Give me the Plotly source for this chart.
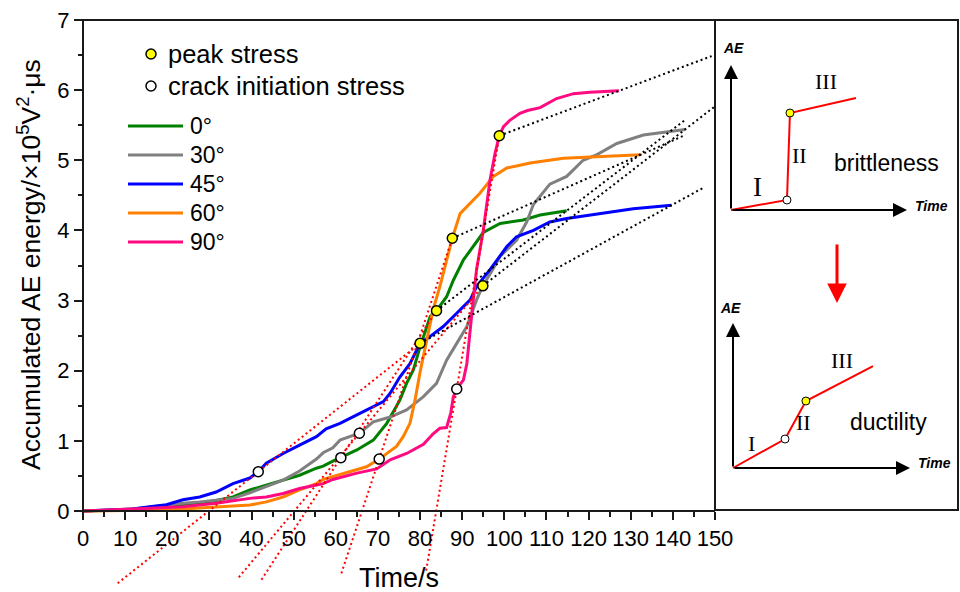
import plotly.graph_objects as go

W, H = 960, 592
FONT = "Arial, Liberation Sans, sans-serif"

# ---------------------------------------------------------------- data
series_names = ["0°", "30°", "45°", "60°", "90°"]
series_colors = ["#008000", "#808080", "#0000FF", "#FF8000", "#FF0A80"]

# accumulated AE energy (x10^5 V^2·μs) versus time (s)
time_0 = [0, 15.8, 20, 24, 27.7, 31.6, 35.6, 39.6, 43.5, 47.5, 51.4, 55.4, 57.0, 59.3,
          61.2, 65.0, 68.9, 72.1, 75.2, 76.8, 78.4, 80.0, 82.4, 83.9, 86.3, 87.9, 90.3,
          92.6, 95.0, 99.0, 104.5, 108.5, 114.8]
ae_0 = [0, 0.02, 0.05, 0.08, 0.11, 0.15, 0.20, 0.30, 0.37, 0.44, 0.51, 0.61, 0.64, 0.71,
        0.76, 0.87, 1.01, 1.25, 1.58, 1.82, 2.01, 2.34, 2.77, 2.856, 3.055, 3.29, 3.58,
        3.77, 3.97, 4.10, 4.15, 4.22, 4.28]

time_30 = [0, 10.3, 15, 19.8, 23.7, 27.7, 31.6, 35.6, 39.6, 43.5, 47.5, 51.4, 55.4, 57.0,
           59.3, 61.0, 65.6, 68.9, 72.9, 76.8, 80.8, 83.9, 86.3, 88.7, 91.1, 93.4, 94.9,
           97.0, 99.0, 102.9, 105.3, 106.9, 110.8, 114.8, 118.7, 122.0, 126.7, 133.0, 142.9]
ae_30 = [0, 0.02, 0.05, 0.085, 0.11, 0.13, 0.155, 0.18, 0.26, 0.35, 0.44, 0.57, 0.74, 0.83,
         0.90, 1.01, 1.108, 1.27, 1.34, 1.44, 1.63, 1.82, 2.15, 2.39, 2.63, 3.01, 3.21,
         3.42, 3.63, 3.86, 4.12, 4.37, 4.66, 4.77, 5.0, 5.08, 5.24, 5.36, 5.44]

time_45 = [0, 11.9, 15.8, 19.8, 23.7, 27.7, 31.6, 35.6, 39.6, 41.6, 43.5, 47.5, 51.4, 55.4,
           57.7, 61.0, 65.0, 68.9, 71.3, 72.9, 75.2, 77.6, 80.0, 82.4, 85.5, 88.7, 91.9,
           93.4, 96.6, 100.6, 102.9, 106.9, 110.8, 114.8, 122.7, 130.6, 139.7]
ae_45 = [0, 0.03, 0.06, 0.09, 0.16, 0.20, 0.27, 0.39, 0.47, 0.56, 0.68, 0.82, 0.94, 1.06,
         1.17, 1.25, 1.37, 1.49, 1.56, 1.68, 1.91, 2.10, 2.39, 2.49, 2.63, 2.82, 3.01,
         3.20, 3.44, 3.77, 3.91, 4.00, 4.12, 4.17, 4.24, 4.31, 4.36]

time_60 = [0, 15.8, 23.7, 31.6, 39.6, 43.5, 47.5, 51.4, 55.4, 57.0, 59.3, 65.0, 67.3, 70.3,
           74.4, 76.0, 77.6, 78.8, 80.0, 81.6, 83.1, 84.7, 85.9, 87.65, 89.5, 91.9, 94.2,
           97.4, 100.6, 103.7, 106.1, 114.0, 121.9, 132.4]
ae_60 = [0, 0.01, 0.03, 0.06, 0.085, 0.13, 0.20, 0.30, 0.39, 0.45, 0.49, 0.585, 0.63, 0.74,
         0.92, 1.06, 1.25, 1.58, 1.98, 2.44, 2.87, 3.20, 3.48, 3.888, 4.24, 4.39, 4.53,
         4.77, 4.89, 4.93, 4.96, 5.03, 5.05, 5.08]

time_90 = [0, 7.9, 15.8, 23.7, 31.6, 39.6, 43.5, 47.5, 51.4, 55.4, 57.0, 59.3, 65.0, 69.7,
           72.9, 76.8, 80.8, 83.1, 84.7, 86.3, 87.3, 87.9, 88.7, 90.3, 91.1, 92.3, 93.4,
           95.0, 96.6, 97.8, 98.8, 99.8, 101.3, 103.7, 105.5, 108.5, 112.4, 116.4, 120.3,
           127.2]
ae_90 = [0, 0.015, 0.04, 0.06, 0.11, 0.18, 0.20, 0.25, 0.32, 0.37, 0.39, 0.45, 0.54, 0.60,
         0.73, 0.82, 0.95, 1.10, 1.18, 1.19, 1.40, 1.63, 1.74, 1.87, 2.10, 2.82, 3.44,
         4.00, 4.72, 5.10, 5.35, 5.48, 5.57, 5.67, 5.71, 5.75, 5.88, 5.95, 5.97, 5.99]

curve_time = [time_0, time_30, time_45, time_60, time_90]
curve_ae = [ae_0, ae_30, ae_45, ae_60, ae_90]

# characteristic points, one per dip angle (same order as series_names)
peak_time = [83.9, 94.9, 80.0, 87.65, 98.8]
peak_ae = [2.856, 3.21, 2.39, 3.888, 5.35]
crack_time = [61.2, 65.6, 41.6, 70.3, 88.7]
crack_ae = [0.76, 1.108, 0.56, 0.74, 1.74]

# how far the fitted guide lines are drawn
tangent_floor = [-0.98, -0.945, -1.03, -0.89, -0.85]   # lower end of crack->peak line (AE)
trend_reach = [143.0, 150.0, 147.2, 143.0, 149.2]      # right end of peak->end line (time)

x_ticks = list(range(0, 151, 10))
x_minor = list(range(5, 150, 10))
y_ticks = list(range(0, 8))
y_minor = [v + 0.5 for v in range(0, 7)]

# schematic stage curves: origin, crack initiation, peak, end (normalised units)
brittle_time = [0, 0.318, 0.335, 0.710]
brittle_ae = [0, 0.069, 0.669, 0.772]
ductile_time = [0, 0.294, 0.412, 0.791]
ductile_ae = [0, 0.200, 0.462, 0.703]


# ---------------------------------------------------------------- helpers
def px(x):
    return x / W


def py(y):
    return 1 - y / H


def label(x, y, text, size, ref=("paper", "paper"), xanchor="center", family=FONT, angle=0):
    return dict(x=x, y=y, xref=ref[0], yref=ref[1], text=text, showarrow=False,
                xanchor=xanchor, yanchor="middle", textangle=angle,
                font=dict(family=family, size=size, color="black"))


# main plot frame (pixels)
LEFT, RIGHT, TOP, ZERO = 83, 715, 20, 511
y_scale = (ZERO - TOP) / 7.0
y_bottom = -(H - ZERO) / y_scale

fig = go.Figure()

# AE curves
for name, color, t, e in zip(series_names, series_colors, curve_time, curve_ae):
    fig.add_trace(go.Scatter(x=t, y=e, mode="lines", name=name,
                             line=dict(color=color, width=3), hoverinfo="skip",
                             showlegend=False))

# red dotted lines through crack initiation and peak points
for i in range(5):
    slope = (peak_ae[i] - crack_ae[i]) / (peak_time[i] - crack_time[i])
    t_low = crack_time[i] + (tangent_floor[i] - crack_ae[i]) / slope
    fig.add_trace(go.Scatter(x=[t_low, peak_time[i]], y=[tangent_floor[i], peak_ae[i]],
                             mode="lines", line=dict(color="#FF0000", width=2, dash="2px,3px"),
                             hoverinfo="skip", showlegend=False))

# black dotted lines through peak point and curve end
for i in range(5):
    t_end, e_end = curve_time[i][-1], curve_ae[i][-1]
    slope = (e_end - peak_ae[i]) / (t_end - peak_time[i])
    e_far = e_end + slope * (trend_reach[i] - t_end)
    fig.add_trace(go.Scatter(x=[peak_time[i], trend_reach[i]], y=[peak_ae[i], e_far],
                             mode="lines", line=dict(color="#000000", width=2, dash="2px,3px"),
                             hoverinfo="skip", showlegend=False))

# characteristic point markers
fig.add_trace(go.Scatter(x=crack_time, y=crack_ae, mode="markers",
                         marker=dict(size=10, color="white", line=dict(color="black", width=1.5)),
                         hoverinfo="skip", showlegend=False))
fig.add_trace(go.Scatter(x=peak_time, y=peak_ae, mode="markers",
                         marker=dict(size=10, color="#FFFF00", line=dict(color="black", width=1.5)),
                         hoverinfo="skip", showlegend=False))

# ---------------------------------------------------------------- schematic insets
SERIF = "Liberation Serif, Times New Roman, serif"
insets = [
    dict(ax="x2", ay="y2", t=brittle_time, e=brittle_ae, origin=(731, 210), tip=(907, 65),
         box=(235, 20), name="brittleness",
         texts=[("AE", 0.017, 1.117), ("Time", 1.142, 0.028)],
         stages=[("I", 0.148, 0.159, 27), ("II", 0.392, 0.379, 22), ("III", 0.54, 0.883, 22)],
         name_pos=(0.886, 0.324)),
    dict(ax="x3", ay="y3", t=ductile_time, e=ductile_ae, origin=(733, 468), tip=(910, 323),
         box=(490, 290), name="ductility",
         texts=[("AE", -0.014, 1.103), ("Time", 1.141, 0.034)],
         stages=[("I", 0.107, 0.172, 22), ("II", 0.401, 0.317, 22), ("III", 0.616, 0.738, 22)],
         name_pos=(0.881, 0.317)),
]

layout_axes = {}
annotations = []
for ins in insets:
    ox, oy = ins["origin"]
    tx, ty = ins["tip"]
    sx, sy = tx - ox, oy - ty
    bottom_px, top_px = ins["box"]
    xr = [(RIGHT - ox) / sx, (958 - ox) / sx]
    yr = [(oy - bottom_px) / sy, (oy - top_px) / sy]
    xn = ins["ax"].replace("x", "xaxis")
    yn = ins["ay"].replace("y", "yaxis")
    layout_axes[xn] = dict(domain=[px(RIGHT), px(958)], range=xr, visible=False,
                           anchor=ins["ay"], fixedrange=True, automargin=False)
    layout_axes[yn] = dict(domain=[py(bottom_px), py(top_px)], range=yr, visible=False,
                           anchor=ins["ax"], fixedrange=True, automargin=False)
    ref = (ins["ax"], ins["ay"])

    fig.add_trace(go.Scatter(x=ins["t"], y=ins["e"], xaxis=ins["ax"], yaxis=ins["ay"],
                             mode="lines", line=dict(color="#FF0000", width=2),
                             hoverinfo="skip", showlegend=False))
    fig.add_trace(go.Scatter(x=[ins["t"][1]], y=[ins["e"][1]], xaxis=ins["ax"], yaxis=ins["ay"],
                             mode="markers",
                             marker=dict(size=8, color="white", line=dict(color="black", width=1)),
                             hoverinfo="skip", showlegend=False))
    fig.add_trace(go.Scatter(x=[ins["t"][2]], y=[ins["e"][2]], xaxis=ins["ax"], yaxis=ins["ay"],
                             mode="markers",
                             marker=dict(size=8, color="#FFFF00", line=dict(color="black", width=1)),
                             hoverinfo="skip", showlegend=False))
    # axis arrows
    for (hx, hy) in [(1, 0), (0, 1)]:
        annotations.append(dict(x=hx, y=hy, ax=0, ay=0, xref=ref[0], yref=ref[1],
                                axref=ref[0], ayref=ref[1], text="", showarrow=True,
                                arrowhead=2, arrowsize=1.4, arrowwidth=2, arrowcolor="black"))
    for txt, x, y in ins["texts"]:
        annotations.append(label(x, y, f"<b><i>{txt}</i></b>", 14, ref))
    for txt, x, y, s in ins["stages"]:
        annotations.append(label(x, y, txt, s, ref, family=SERIF))
    nx, ny = ins["name_pos"]
    annotations.append(label(nx, ny, ins["name"], 23, ref))

# red arrow between the two schematics
annotations.append(dict(x=px(837), y=py(303), xref="paper", yref="paper", ax=0, ay=-60,
                        text="", showarrow=True, arrowhead=2, arrowsize=1.3, arrowwidth=3,
                        arrowcolor="#FF0000"))

# ---------------------------------------------------------------- legend (drawn)
shapes = []
annotations.append(label(px(166), py(54), "peak stress", 25.5, xanchor="left"))
annotations.append(label(px(166), py(86), "crack initiation stress", 25.5, xanchor="left"))
for cy, fill in [(54, "#FFFF00"), (86, "white")]:
    shapes.append(dict(type="circle", xref="paper", yref="paper",
                       x0=px(146), x1=px(156), y0=py(cy + 5), y1=py(cy - 5),
                       fillcolor=fill, line=dict(color="black", width=1.5)))
for i, (name, color) in enumerate(zip(series_names, series_colors)):
    cy = 126 + i * 29
    shapes.append(dict(type="line", xref="paper", yref="paper",
                       x0=px(128), x1=px(183), y0=py(cy), y1=py(cy),
                       line=dict(color=color, width=3)))
    annotations.append(label(px(188), py(cy), name, 23, xanchor="left"))

# ---------------------------------------------------------------- frame
frame = dict(color="#1a1a1a", width=2)
shapes.append(dict(type="line", xref="paper", yref="paper", x0=px(LEFT), x1=px(958),
                   y0=py(TOP), y1=py(TOP), line=frame))
shapes.append(dict(type="line", xref="paper", yref="paper", x0=px(LEFT), x1=px(LEFT),
                   y0=py(TOP), y1=py(ZERO), line=frame))
shapes.append(dict(type="rect", xref="paper", yref="paper", x0=px(RIGHT), x1=px(958),
                   y0=py(510), y1=py(TOP), line=frame, fillcolor="rgba(0,0,0,0)"))

# axis titles
annotations.append(label(px(29), py(265),
                         "Accumulated AE energy/×10<sup>5</sup>V<sup>2</sup>·μs", 26.5, angle=-90))
annotations.append(label(px(399), py(578), "Time/s", 27))

tick_font = dict(family=FONT, size=22, color="black")
fig.update_layout(
    width=W, height=H, margin=dict(l=0, r=0, t=0, b=0, autoexpand=False),
    paper_bgcolor="white", plot_bgcolor="rgba(0,0,0,0)",
    showlegend=False,
    xaxis=dict(domain=[px(LEFT), px(RIGHT)], range=[0, 150], anchor="free", position=py(ZERO),
               showline=True, linewidth=2, linecolor="#1a1a1a", ticks="outside", ticklen=8,
               tickwidth=2, tickcolor="#1a1a1a", tickmode="array", tickvals=x_ticks,
               ticktext=[str(v) for v in x_ticks], tickfont=tick_font,
               minor=dict(tickmode="array", tickvals=x_minor, ticks="outside", ticklen=5,
                          tickwidth=2, tickcolor="#1a1a1a"),
               showgrid=False, zeroline=False, fixedrange=True, automargin=False),
    yaxis=dict(domain=[0, py(TOP)], range=[y_bottom, 7], anchor="free", position=px(LEFT),
               showline=False, ticks="outside", ticklen=9, tickwidth=2, tickcolor="#1a1a1a",
               tickmode="array", tickvals=y_ticks, ticktext=[str(v) for v in y_ticks],
               tickfont=tick_font,
               minor=dict(tickmode="array", tickvals=y_minor, ticks="outside", ticklen=5,
                          tickwidth=2, tickcolor="#1a1a1a"),
               showgrid=False, zeroline=False, fixedrange=True, automargin=False),
    shapes=shapes,
    annotations=annotations,
    **layout_axes,
)

fig.write_html("out.html")
